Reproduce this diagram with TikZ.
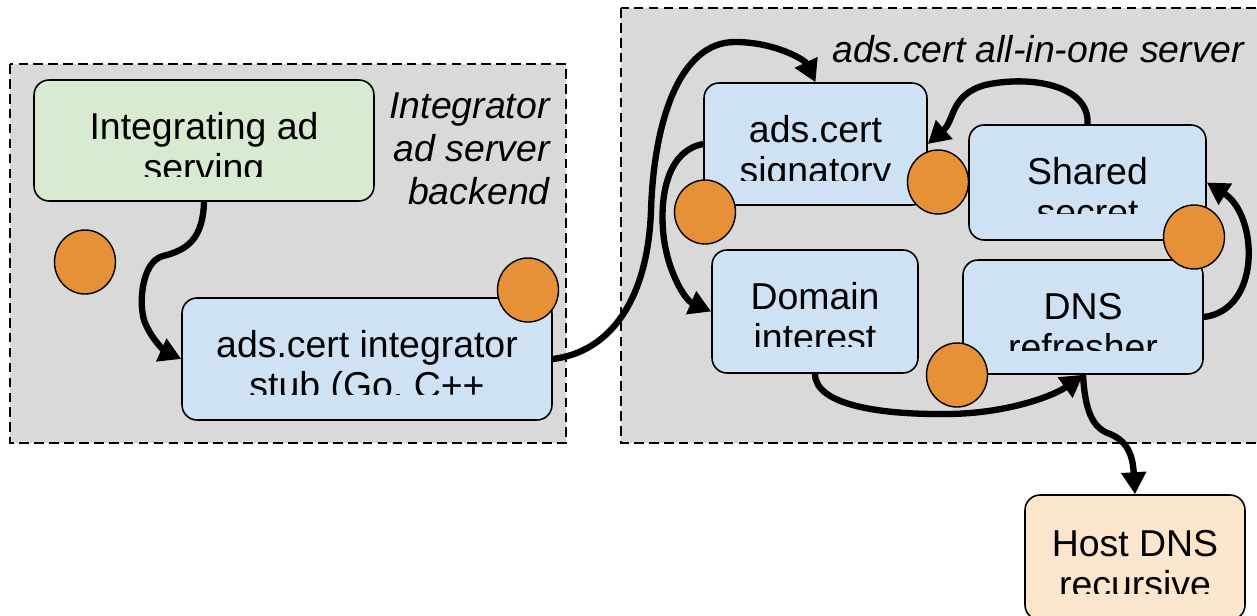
\documentclass[tikz,border=0pt]{standalone}
\usepackage{fontspec}
\setmainfont{Liberation Sans}
\usepackage{tikz}
\usetikzlibrary{shapes,arrows.meta,positioning,calc}
\definecolor{paneGray}{HTML}{D9D9D9}
\definecolor{blkBlue}{HTML}{CFE2F3}
\definecolor{blkGreen}{HTML}{D9EAD3}
\definecolor{blkPeach}{HTML}{FCE5CD}
\definecolor{dotOrange}{HTML}{E69138}
\tikzstyle{conn} = [line width=3.6pt, -{Triangle[length=0.44cm,width=0.48cm]}]
\tikzstyle{pane} = [draw, fill=paneGray, line width=0.8pt, dash pattern=on 5.5pt off 3pt]
\tikzstyle{blk} = [draw, line width=0.9pt, rounded corners=0.3cm, inner sep=0pt]
\tikzstyle{dot} = [ellipse, draw, line width=0.8pt, fill=dotOrange, minimum width=1.22cm, minimum height=1.28cm, inner sep=0pt]
\tikzstyle{txt} = [font=\fontsize{21.3pt}{22.8pt}\selectfont, align=center, inner sep=0pt, anchor=base]
\tikzstyle{note} = [font=\fontsize{21.3pt}{24.3pt}\selectfont\itshape, inner sep=0pt]

\begin{document}
\begin{tikzpicture}[x=0.02cm, y=-0.02cm]
    \useasboundingbox (0,0) rectangle (1257,615);
    % the two servers
    \draw[pane] (10,64) rectangle (566,443);
    \draw[pane] (621,8) rectangle (1265,443);
    \node[note, align=right, anchor=base east] (intlabel) at (550,204) {Integrator\\ad server\\backend};
    \node[note, anchor=base west] (aiolabel) at (832,63) {ads.cert all-in-one server};

    % boxes
    \node[blk, fill=blkGreen, minimum width=6.8cm, minimum height=2.42cm] (serving) at (204,140.5) {};
    \node[blk, fill=blkBlue, minimum width=7.4cm, minimum height=2.44cm] (stub) at (367,359) {};
    \node[blk, fill=blkBlue, minimum width=4.46cm, minimum height=2.44cm] (signatory) at (815.5,144) {};
    \node[blk, fill=blkBlue, minimum width=4.74cm, minimum height=2.3cm] (secret) at (1087.5,182.5) {};
    \node[blk, fill=blkBlue, minimum width=4.12cm, minimum height=2.46cm] (domain) at (815,311.5) {};
    \node[blk, fill=blkBlue, minimum width=4.8cm, minimum height=2.28cm] (refresher) at (1083,317) {};
    \node[blk, fill=blkPeach, minimum width=4.4cm, minimum height=2.5cm] (hostdns) at (1135,557.5) {};

    % box texts, cut off at the bottom
    \begin{scope}
        \clip (serving.north west) rectangle (374,176);
        \node[txt] (servingtxt) at (204,180) {Integrating ad\\serving};
    \end{scope}
    \begin{scope}
        \clip (stub.north west) rectangle (552,394);
        \node[txt] (stubtxt) at (367,398) {ads.cert integrator\\stub (Go, C++};
    \end{scope}
    \begin{scope}
        \clip (signatory.north west) rectangle (927,180);
        \node[txt] (signatorytxt) at (815.5,183) {ads.cert\\signatory};
    \end{scope}
    \begin{scope}
        \clip (secret.north west) rectangle (1206,213);
        \node[txt] (secrettxt) at (1087.5,225) {Shared\\secret};
    \end{scope}
    \begin{scope}
        \clip (domain.north west) rectangle (918,346);
        \node[txt] (domaintxt) at (815,350) {Domain\\interest};
    \end{scope}
    \begin{scope}
        \clip (refresher.north west) rectangle (1203,350);
        \node[txt] (refreshertxt) at (1083,360) {DNS\\refresher};
    \end{scope}
    \begin{scope}
        \clip (hostdns.north west) rectangle (1245,593);
        \node[txt] (hostdnstxt) at (1135,597) {Host DNS\\recursive};
    \end{scope}

    % connectors
    \draw[conn] (serving.south) .. controls (203,238) and (188,250) .. (163,256)
        .. controls (140,262) and (138,310) .. (146,325)
        .. controls (154,343) and (168,353) .. (stub.west);
    \draw[conn] (stub.east) .. controls (610,352) and (648,300) .. (651,210)
        .. controls (654,120) and (680,42) .. (735,42)
        .. controls (775,42) and (805,60) .. (signatory.north);
    \draw[conn] (signatory.west) .. controls (670,150) and (660,190) .. (663,230)
        .. controls (666,270) and (685,300) .. (domain.west);
    \draw[conn] (secret.north) .. controls (1090,85) and (1030,75) .. (985,85)
        .. controls (950,95) and (955,120) .. (signatory.east);
    \draw[conn] (refresher.east) .. controls (1262,310) and (1258,215) .. (secret.east);
    \draw[conn] (domain.south) .. controls (815,405) and (880,415) .. (950,414)
        .. controls (1010,413) and (1055,395) .. (refresher.south);
    \draw[conn] (refresher.south) .. controls (1085,410) and (1092,428) .. (1110,434)
        .. controls (1130,442) and (1133,460) .. (hostdns.north);

    % orange markers
    \node[dot] (dotA) at (85,262) {};
    \node[dot] (dotB) at (528,290) {};
    \node[dot] (dotC) at (705,212) {};
    \node[dot] (dotD) at (938,182) {};
    \node[dot] (dotE) at (1194,237) {};
    \node[dot] (dotF) at (957,375) {};
\end{tikzpicture}
\end{document}
